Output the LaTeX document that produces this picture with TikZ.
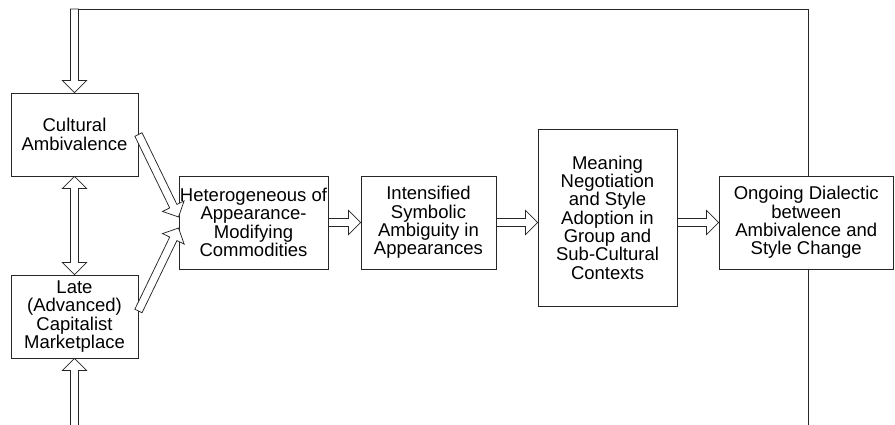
\documentclass[tikz,border=0pt]{standalone}
\usepackage{fontspec}
\setmainfont{Liberation Sans}
\usetikzlibrary{calc}

\tikzset{
  box/.style={draw=black!85, line width=0.9pt, fill=white, align=center,
    inner sep=0pt, font=\fontsize{18.5}{18.3}\selectfont},
  % hollow block arrow: stem half-width 4pt, head 12pt long and 12pt half-wide
  hollow/.style={draw=black!85, line width=0.75pt, fill=white, line join=miter,
    to path={let \p1=(\tikztostart), \p2=(\tikztotarget),
      \n1={atan2(\y2-\y1,\x2-\x1)}, \n2={veclen(\x2-\x1,\y2-\y1)} in
      [shift={(\p1)}, rotate=\n1]
      (0pt,-4pt) -- ({\n2-12pt},-4pt) -- ({\n2-12pt},-12pt) -- ({\n2},0pt)
      -- ({\n2-12pt},12pt) -- ({\n2-12pt},4pt) -- (0pt,4pt) -- cycle}},
  % hollow block arrow with a head at each end
  hollowboth/.style={draw=black!85, line width=0.75pt, fill=white, line join=miter,
    to path={let \p1=(\tikztostart), \p2=(\tikztotarget),
      \n1={atan2(\y2-\y1,\x2-\x1)}, \n2={veclen(\x2-\x1,\y2-\y1)} in
      [shift={(\p1)}, rotate=\n1]
      (0pt,0pt) -- (12pt,12pt) -- (12pt,4pt) -- ({\n2-12pt},4pt) -- ({\n2-12pt},12pt)
      -- ({\n2},0pt) -- ({\n2-12pt},-12pt) -- ({\n2-12pt},-4pt) -- (12pt,-4pt)
      -- (12pt,-12pt) -- cycle}},
  loopline/.style={draw=black!85, line width=0.9pt}
}

\begin{document}
\begin{tikzpicture}[x=1pt, y=1pt]
  \useasboundingbox (0,0) rectangle (895,-424);
  \clip (0,0) rectangle (895,-424);
  \fill[white] (0,0) rectangle (895,-424);

  % boxes
  \node[box, minimum width=127pt, minimum height=83pt] (cult) at (74.5,-134.5)
    {Cultural\\Ambivalence};
  \node[box, minimum width=127pt, minimum height=83pt] (late) at (74.5,-316.5)
    {Late\\(Advanced)\\Capitalist\\Marketplace};
  \node[box, minimum width=149pt, minimum height=93pt] (het) at (253.5,-222.5)
    {Heterogeneous of\\Appearance-\\Modifying\\Commodities};
  \node[box, minimum width=135pt, minimum height=93pt] (int) at (428.5,-222.5)
    {Intensified\\Symbolic\\Ambiguity in\\Appearances};
  \node[box, minimum width=139pt, minimum height=177pt] (mean) at (607.5,-217.5)
    {Meaning\\Negotiation\\and Style\\Adoption in\\Group and\\Sub-Cultural\\Contexts};
  \node[box, minimum width=174.5pt, minimum height=93pt] (ongo) at (806.25,-222.5)
    {Ongoing Dialectic\\between\\Ambivalence and\\Style Change};

  % feedback loop corners
  \coordinate (tr) at (808,-9);
  \coordinate (tl) at (70.5,-9);
  \coordinate (bl) at (74.5,-432);

  \draw[loopline] (ongo.north -| tr) -- (tr) -- (tl);
  \draw[loopline] (ongo.south -| tr) -- (tr |- bl);

  % block arrows
  \draw[hollow] (cult.north |- tr) to (cult.north);
  \draw[hollow] (bl) to (late.south);
  \draw[hollowboth] (cult.south) to (late.north);
  \draw[hollow] (cult.east) to ($(het.west)+(0,5.5)$);
  \draw[hollow] ($(late.east)+(0,5.5)$) to ($(het.west)+(0,-5.5)$);
  \draw[hollow] (het.east) to (int.west);
  \draw[hollow] (int.east) to (int.east -| mean.west);
  \draw[hollow] (int.east -| mean.east) to (ongo.west);
\end{tikzpicture}
\end{document}
